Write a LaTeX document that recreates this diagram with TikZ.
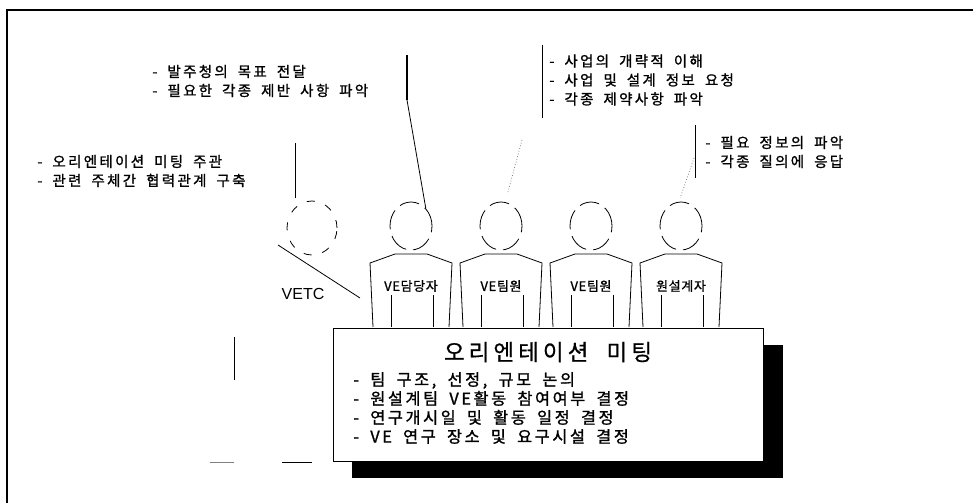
\documentclass[tikz,border=0pt]{standalone}
\usepackage{fontspec}
\newfontfamily\krfont{Noto Sans CJK KR}[LetterSpace=16,WordSpace=1.8,FakeBold=1.2]
\newfontfamily\ttlfont{Noto Sans CJK KR}[LetterSpace=18,WordSpace=2,FakeBold=0.6]
\newfontfamily\lblfont{Noto Sans CJK KR}[LetterSpace=5,FakeBold=1]
\newfontfamily\etcfont{Liberation Sans}
\usetikzlibrary{positioning,shapes.geometric}

\begin{document}
\begin{tikzpicture}[x=1pt,y=-1pt,line width=0.8pt,
  note/.style={anchor=west,inner sep=0pt,align=left,font=\krfont\fontsize{14.5}{19}\selectfont},
  boxnote/.style={note,font=\krfont\fontsize{16.3}{19}\selectfont},
  title/.style={inner sep=0pt,font=\ttlfont\fontsize{22.5}{23}\selectfont},
  lbl/.style={inner sep=0pt,font=\lblfont\fontsize{13}{13}\selectfont},
  head/.style={draw,ellipse,inner sep=0pt,minimum width=42pt,minimum height=48pt,
    dash pattern=on 20pt off 7pt},
  etchead/.style={head,minimum width=50pt,minimum height=54pt,dash pattern=on 8pt off 11pt}]
  \useasboundingbox (0,0) rectangle (973,503);

  % frame
  \draw[line width=1.2pt] (7,503) -- (7,10) -- (973,10);

  % notes
  \node[note] (n-etc) at (37,171) {- 오리엔테이션 미팅 주관\\- 관련 주체간 협력관계 구축};
  \node[note] (n-own) at (152,81) {- 발주청의 목표 전달\\- 필요한 각종 제반 사항 파악};
  \node[note] (n-team) at (549,80) {- 사업의 개략적 이해\\- 사업 및 설계 정보 요청\\- 각종 제약사항 파악};
  \node[note] (n-des) at (705,152) {- 필요 정보의 파악\\- 각종 질의에 응답};

  % VETC
  \node[etchead] (hetc) at (312,228) {};
  \node[font=\etcfont\fontsize{16}{16}\selectfont,inner sep=0pt] (etc) at (303,294) {VETC};
  \coordinate (etc-top) at (295,143);
  \draw (etc-top) -- (295,198);
  \coordinate (d1) at (278,245);
  \coordinate (d2) at (360,298);
  \draw (d1) -- (d2);

  % members
  \foreach \x/\who [count=\i] in {411/VE담당자,501/VE팀원,591/VE팀원,681/원설계자}{
    \node[head] (h\i) at (\x,226) {};
    \draw (\x-16,254) -- (\x+16,254) -- (\x+41,263) -- (\x+38,327);
    \draw (\x-16,254) -- (\x-41,263) -- (\x-38,327);
    \draw (\x-20,295) -- (\x-20,327);
    \draw (\x+22,295) -- (\x+22,327);
    \node[lbl] (w\i) at (\x,286) {\who};
  }

  % leaders
  \coordinate (own-top) at (407,55);
  \draw[line width=1.4pt] (own-top) -- (407,100);
  \draw (407,100) -- (h1.50);
  \draw (542,45) -- (542,118);
  \coordinate (team-top) at (522,140);
  \draw[dotted,gray,shorten >=9pt] (team-top) -- (h2.80);
  \coordinate (des-top) at (695,125);
  \draw (des-top) -- (695,178);
  \draw[dotted,gray,shorten >=4pt] (694,158) -- (h4.95);

  % meeting
  \fill (352,345) rectangle (783,478);
  \node[draw,fill=white,anchor=north west,minimum width=430pt,minimum height=133pt] (meet) at (333,328) {};
  \node[title] (ttl) at (548,352) {오리엔테이션 미팅};
  \node[boxnote] (agenda) at (353,408) {- 팀 구조, 선정, 규모 논의\\- 원설계팀 VE활동 참여여부 결정\\- 연구개시일 및 활동 일정 결정\\- VE 연구 장소 및 요구시설 결정};

  % loose strokes
  \draw (234,337) -- (234,380);
  \draw[gray] (210,462) -- (234,462);
  \draw (282,462) -- (312,462);
\end{tikzpicture}
\end{document}
